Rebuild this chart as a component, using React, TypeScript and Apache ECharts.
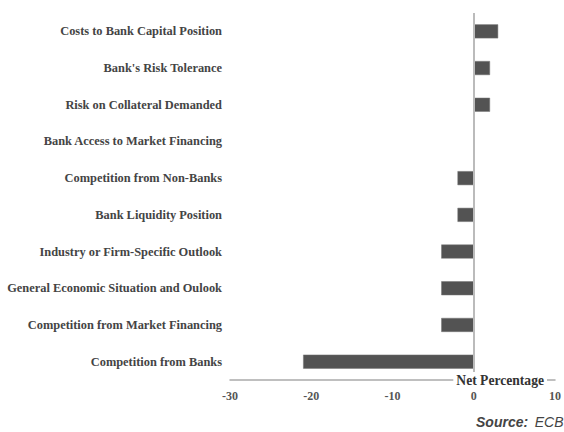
import React, { useEffect, useRef } from "react";
import * as echarts from "echarts";

const categories = [
  "Costs to Bank Capital Position",
  "Bank's Risk Tolerance",
  "Risk on Collateral Demanded",
  "Bank Access to Market Financing",
  "Competition from Non-Banks",
  "Bank Liquidity Position",
  "Industry or Firm-Specific Outlook",
  "General Economic Situation and Oulook",
  "Competition from Market Financing",
  "Competition from Banks",
];
const values = [3, 2, 2, 0, -2, -2, -4, -4, -4, -21];
const axisName = "Net Percentage";
const sourceLabel = "Source:";
const sourceName = "ECB";

export default function App() {
  const ref = useRef<HTMLDivElement>(null);
  useEffect(() => {
    if (!ref.current) return;
    const chart = echarts.init(ref.current, null, { renderer: "svg" });
    chart.setOption({
      animation: false,
      backgroundColor: "#fff",
      grid: { left: 230, right: 8, top: 13, bottom: 52 },
      xAxis: {
        type: "value",
        min: -30,
        max: 10,
        interval: 10,
        axisLine: { show: true, onZero: false, lineStyle: { color: "#aaa", width: 1.5 } },
        axisTick: { show: false },
        splitLine: { show: false },
        axisLabel: {
          margin: 10,
          fontFamily: "Liberation Serif",
          fontWeight: "bold",
          fontSize: 12,
          color: "#555",
        },
      },
      yAxis: {
        type: "category",
        data: categories,
        inverse: true,
        axisLine: { show: false },
        axisTick: { show: false },
        axisLabel: {
          margin: 8,
          fontFamily: "Liberation Serif",
          fontWeight: "bold",
          fontSize: 12.4,
          color: "#444",
        },
      },
      series: [
        {
          type: "bar",
          data: values,
          barWidth: 14,
          itemStyle: { color: "#535353", borderColor: "#777", borderWidth: 0.5 },
          markLine: {
            silent: true,
            symbol: "none",
            label: { show: false },
            lineStyle: { color: "#bbb", width: 2, type: "solid" },
            data: [{ xAxis: 0 }],
          },
        },
      ],
      graphic: [
        {
          type: "text",
          x: 547,
          y: 380,
          z: 100,
          style: {
            text: axisName,
            align: "right",
            verticalAlign: "middle",
            fontFamily: "Liberation Serif",
            fontWeight: "bold",
            fontSize: 13.6,
            fill: "#333",
            backgroundColor: "#fff",
            padding: [1, 3, 1, 3],
          },
        },
        {
          type: "text",
          left: 476,
          top: 415,
          style: {
            text: `{b|${sourceLabel}}  {n|${sourceName}}`,
            rich: {
              b: { fontFamily: "Liberation Sans", fontStyle: "italic", fontWeight: "bold", fontSize: 14, fill: "#444" },
              n: { fontFamily: "Liberation Sans", fontStyle: "italic", fontSize: 14, fill: "#444" },
            },
          },
        },
      ],
    });
    return () => chart.dispose();
  }, []);
  return (
    <div
      ref={ref}
      style={{ position: "fixed", left: 0, top: 0, width: 564, height: 432 }}
    />
  );
}
